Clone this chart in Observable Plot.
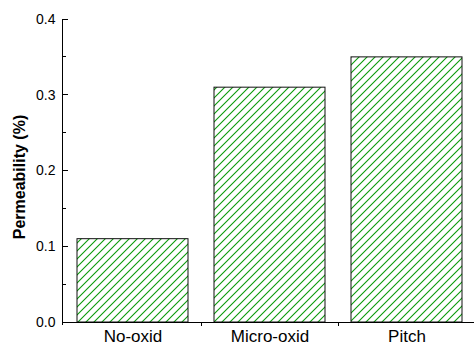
<!DOCTYPE html>
<html>
<head>
<meta charset="utf-8">
<script src="https://cdn.jsdelivr.net/npm/d3@7"></script>
<script src="https://cdn.jsdelivr.net/npm/@observablehq/plot@0.6"></script>
<style>
  html, body { margin: 0; padding: 0; background: #fff; }
  #chart svg { display: block; }
</style>
</head>
<body>
<div id="chart"></div>
<script>
// Gas permeability of the three samples
const categories = ["No-oxid", "Micro-oxid", "Pitch"];
const permeability = [0.11, 0.31, 0.35];
const majorTicks = [0, 0.1, 0.2, 0.3, 0.4];
const minorTicks = [0.05, 0.15, 0.25, 0.35];
const yTitle = "Permeability (%)";
const hatchColor = "#0a9a0a";

const data = categories.map((c, i) => ({category: c, value: permeability[i]}));

const plot = Plot.plot({
  width: 474,
  height: 347,
  marginLeft: 62,
  marginRight: 0,
  marginTop: 19,
  marginBottom: 25,
  style: {fontFamily: "'Liberation Sans', Arial, sans-serif", background: "white", color: "black"},
  x: {domain: categories, range: [63.5, 476], paddingInner: 0.19, paddingOuter: 0.095, label: null},
  y: {domain: [0, 0.4], label: null},
  marks: [
    Plot.barY(data, {x: "category", y: "value", fill: "url(#bar-hatch)", stroke: "#111", strokeWidth: 1}),
    Plot.ruleY([0], {stroke: "black", strokeWidth: 1}),
    Plot.axisY(majorTicks, {tickSize: 0, tickPadding: 7, fontSize: 14, tickFormat: d3.format(".1f")}),
    Plot.axisX({tickSize: 0, tickPadding: 7.5, fontSize: 17}),
    Plot.text([yTitle], {
      frameAnchor: "left", rotate: -90, dx: -43, dy: 6,
      fontSize: 16, fontWeight: "bold", lineAnchor: "middle", textAnchor: "middle"
    })
  ]
});

// diagonal hatch used to fill the bars
const defs = d3.select(plot).insert("svg:defs", ":first-child");
const pattern = defs.append("svg:pattern")
  .attr("id", "bar-hatch")
  .attr("patternUnits", "userSpaceOnUse")
  .attr("width", 8).attr("height", 8);
pattern.append("svg:rect").attr("width", 8).attr("height", 8).attr("fill", "white");
pattern.append("svg:path")
  .attr("d", "M-2,2 L2,-2 M0,8 L8,0 M6,10 L10,6")
  .attr("fill", "none")
  .attr("stroke", hatchColor)
  .attr("stroke-width", 1.1);

// y axis line, inward ticks, and separators between categories on the x axis
const xs = plot.scale("x");
const ys = plot.scale("y");
const y0 = ys.apply(0);
const gap = (xs.step - xs.bandwidth) / 2;
const bounds = d3.range(categories.length).map(i => xs.apply(categories[i]) - gap);
const crisp = v => Math.round(v) + 0.5;
const g = d3.select(plot).append("g").attr("stroke", "black").attr("stroke-width", 1);
g.append("line")
  .attr("x1", 62.5).attr("x2", 62.5)
  .attr("y1", ys.apply(0.4)).attr("y2", y0 + 3);
g.selectAll(".major").data(majorTicks).join("line")
  .attr("x1", 62.5).attr("x2", 68)
  .attr("y1", d => crisp(ys.apply(d) - 0.5)).attr("y2", d => crisp(ys.apply(d) - 0.5));
g.selectAll(".minor").data(minorTicks).join("line")
  .attr("x1", 62.5).attr("x2", 66)
  .attr("y1", d => crisp(ys.apply(d) - 0.5)).attr("y2", d => crisp(ys.apply(d) - 0.5));
g.selectAll(".sep").data(bounds.slice(1)).join("line")
  .attr("x1", d => crisp(d)).attr("x2", d => crisp(d))
  .attr("y1", y0).attr("y2", y0 + 4);

document.getElementById("chart").appendChild(plot);
</script>
</body>
</html>
